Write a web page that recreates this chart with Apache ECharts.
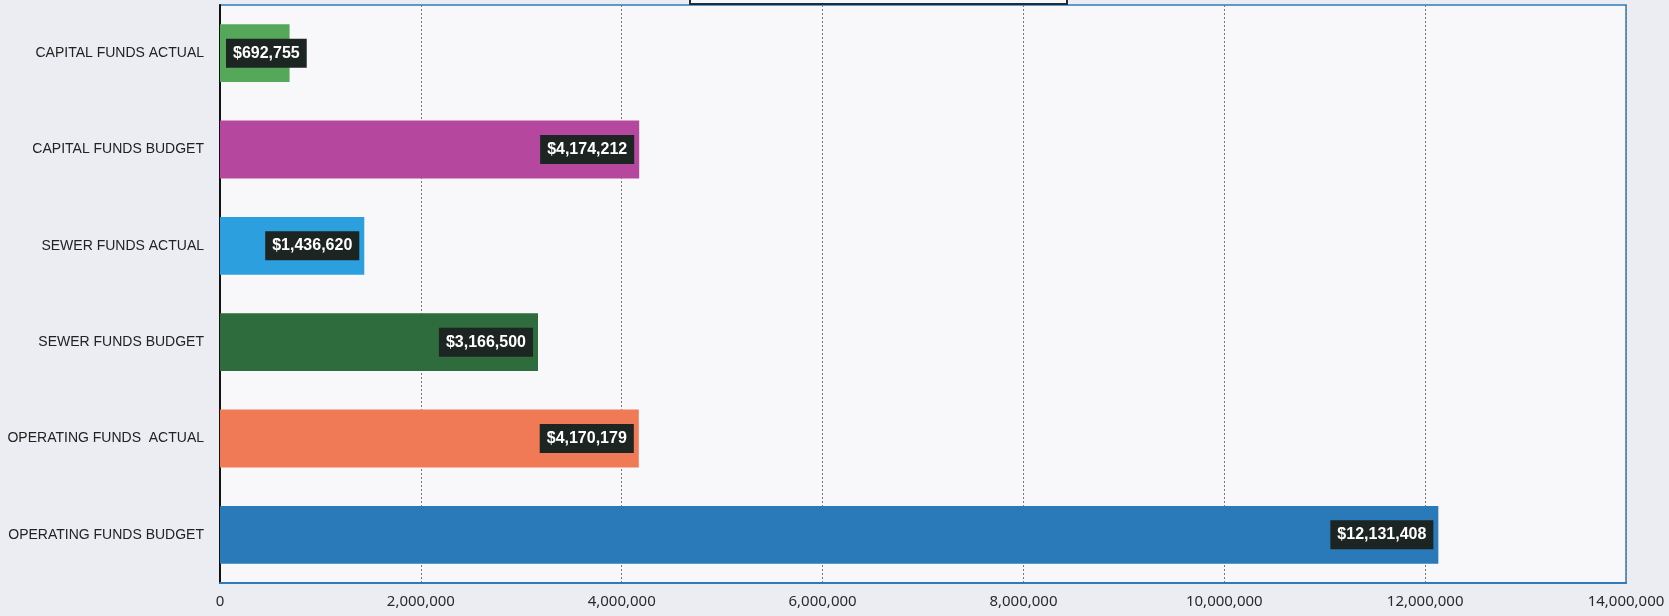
<!DOCTYPE html>
<html>
<head>
<meta charset="utf-8">
<script src="https://cdn.jsdelivr.net/npm/echarts@6/dist/echarts.min.js"></script>
<style>
html,body{margin:0;padding:0;background:#ecedf2;}
#c{width:1669px;height:616px;}
</style>
</head>
<body>
<div id="c"></div>
<script>
const categories = [
  "CAPITAL FUNDS ACTUAL",
  "CAPITAL FUNDS BUDGET",
  "SEWER FUNDS ACTUAL",
  "SEWER FUNDS BUDGET",
  "OPERATING FUNDS  ACTUAL",
  "OPERATING FUNDS BUDGET"
];
const values = [692755, 4174212, 1436620, 3166500, 4170179, 12131408];
const barColors = ["#55a85a", "#b6479e", "#2c9fde", "#2f6c3d", "#f07a56", "#2a79b9"];
const xTicks = [0, 2000000, 4000000, 6000000, 8000000, 10000000, 12000000, 14000000];

const fmtMoney = v => "$" + v.toLocaleString("en-US");
const fmtTick = v => v.toLocaleString("en-US");

const chart = echarts.init(document.getElementById("c"));
const data = values.map((v, i) => {
  const item = { value: v, itemStyle: { color: barColors[i] } };
  if (i === 0) item.label = { position: "insideLeft", distance: 6 };
  return item;
});

chart.setOption({
  backgroundColor: "#ecedf2",
  animation: false,
  grid: {
    left: 220, right: 43, top: 5, bottom: 33,
    show: true, backgroundColor: "#f8f8fa",
    borderColor: "#2b7bbd", borderWidth: 1.5
  },
  xAxis: {
    type: "value",
    min: xTicks[0], max: xTicks[xTicks.length - 1], interval: 2000000,
    axisLine: { show: true, lineStyle: { color: "#2b7bbd", width: 2 } },
    axisTick: { show: false },
    axisLabel: {
      formatter: fmtTick, color: "#2a2a2a", fontSize: 15, margin: 11,
      fontFamily: "Noto Sans"
    },
    splitLine: { show: true, lineStyle: { color: "#777", type: [2, 2], width: 1 } }
  },
  yAxis: {
    type: "category",
    data: categories,
    inverse: true,
    axisLine: { show: true, lineStyle: { color: "#111", width: 2 } },
    axisTick: { show: false },
    axisLabel: {
      color: "#222", fontSize: 14, margin: 16,
      fontFamily: "Liberation Sans"
    },
    splitLine: { show: false }
  },
  series: [{
    type: "bar",
    data: data,
    barCategoryGap: "40%",
    label: {
      show: true,
      position: "insideRight",
      distance: 5,
      formatter: p => fmtMoney(p.value),
      color: "#fff",
      fontWeight: "bold",
      fontSize: 16,
      fontFamily: "Liberation Sans",
      backgroundColor: "#1c2521",
      padding: [7, 7, 6, 7]
    }
  }],
  graphic: [{
    type: "rect",
    shape: { x: 690, y: -10, width: 377, height: 14 },
    style: { fill: "#f8f8fa", stroke: "#1d2d3a", lineWidth: 2 },
    z: 100
  }]
});
</script>
</body>
</html>
